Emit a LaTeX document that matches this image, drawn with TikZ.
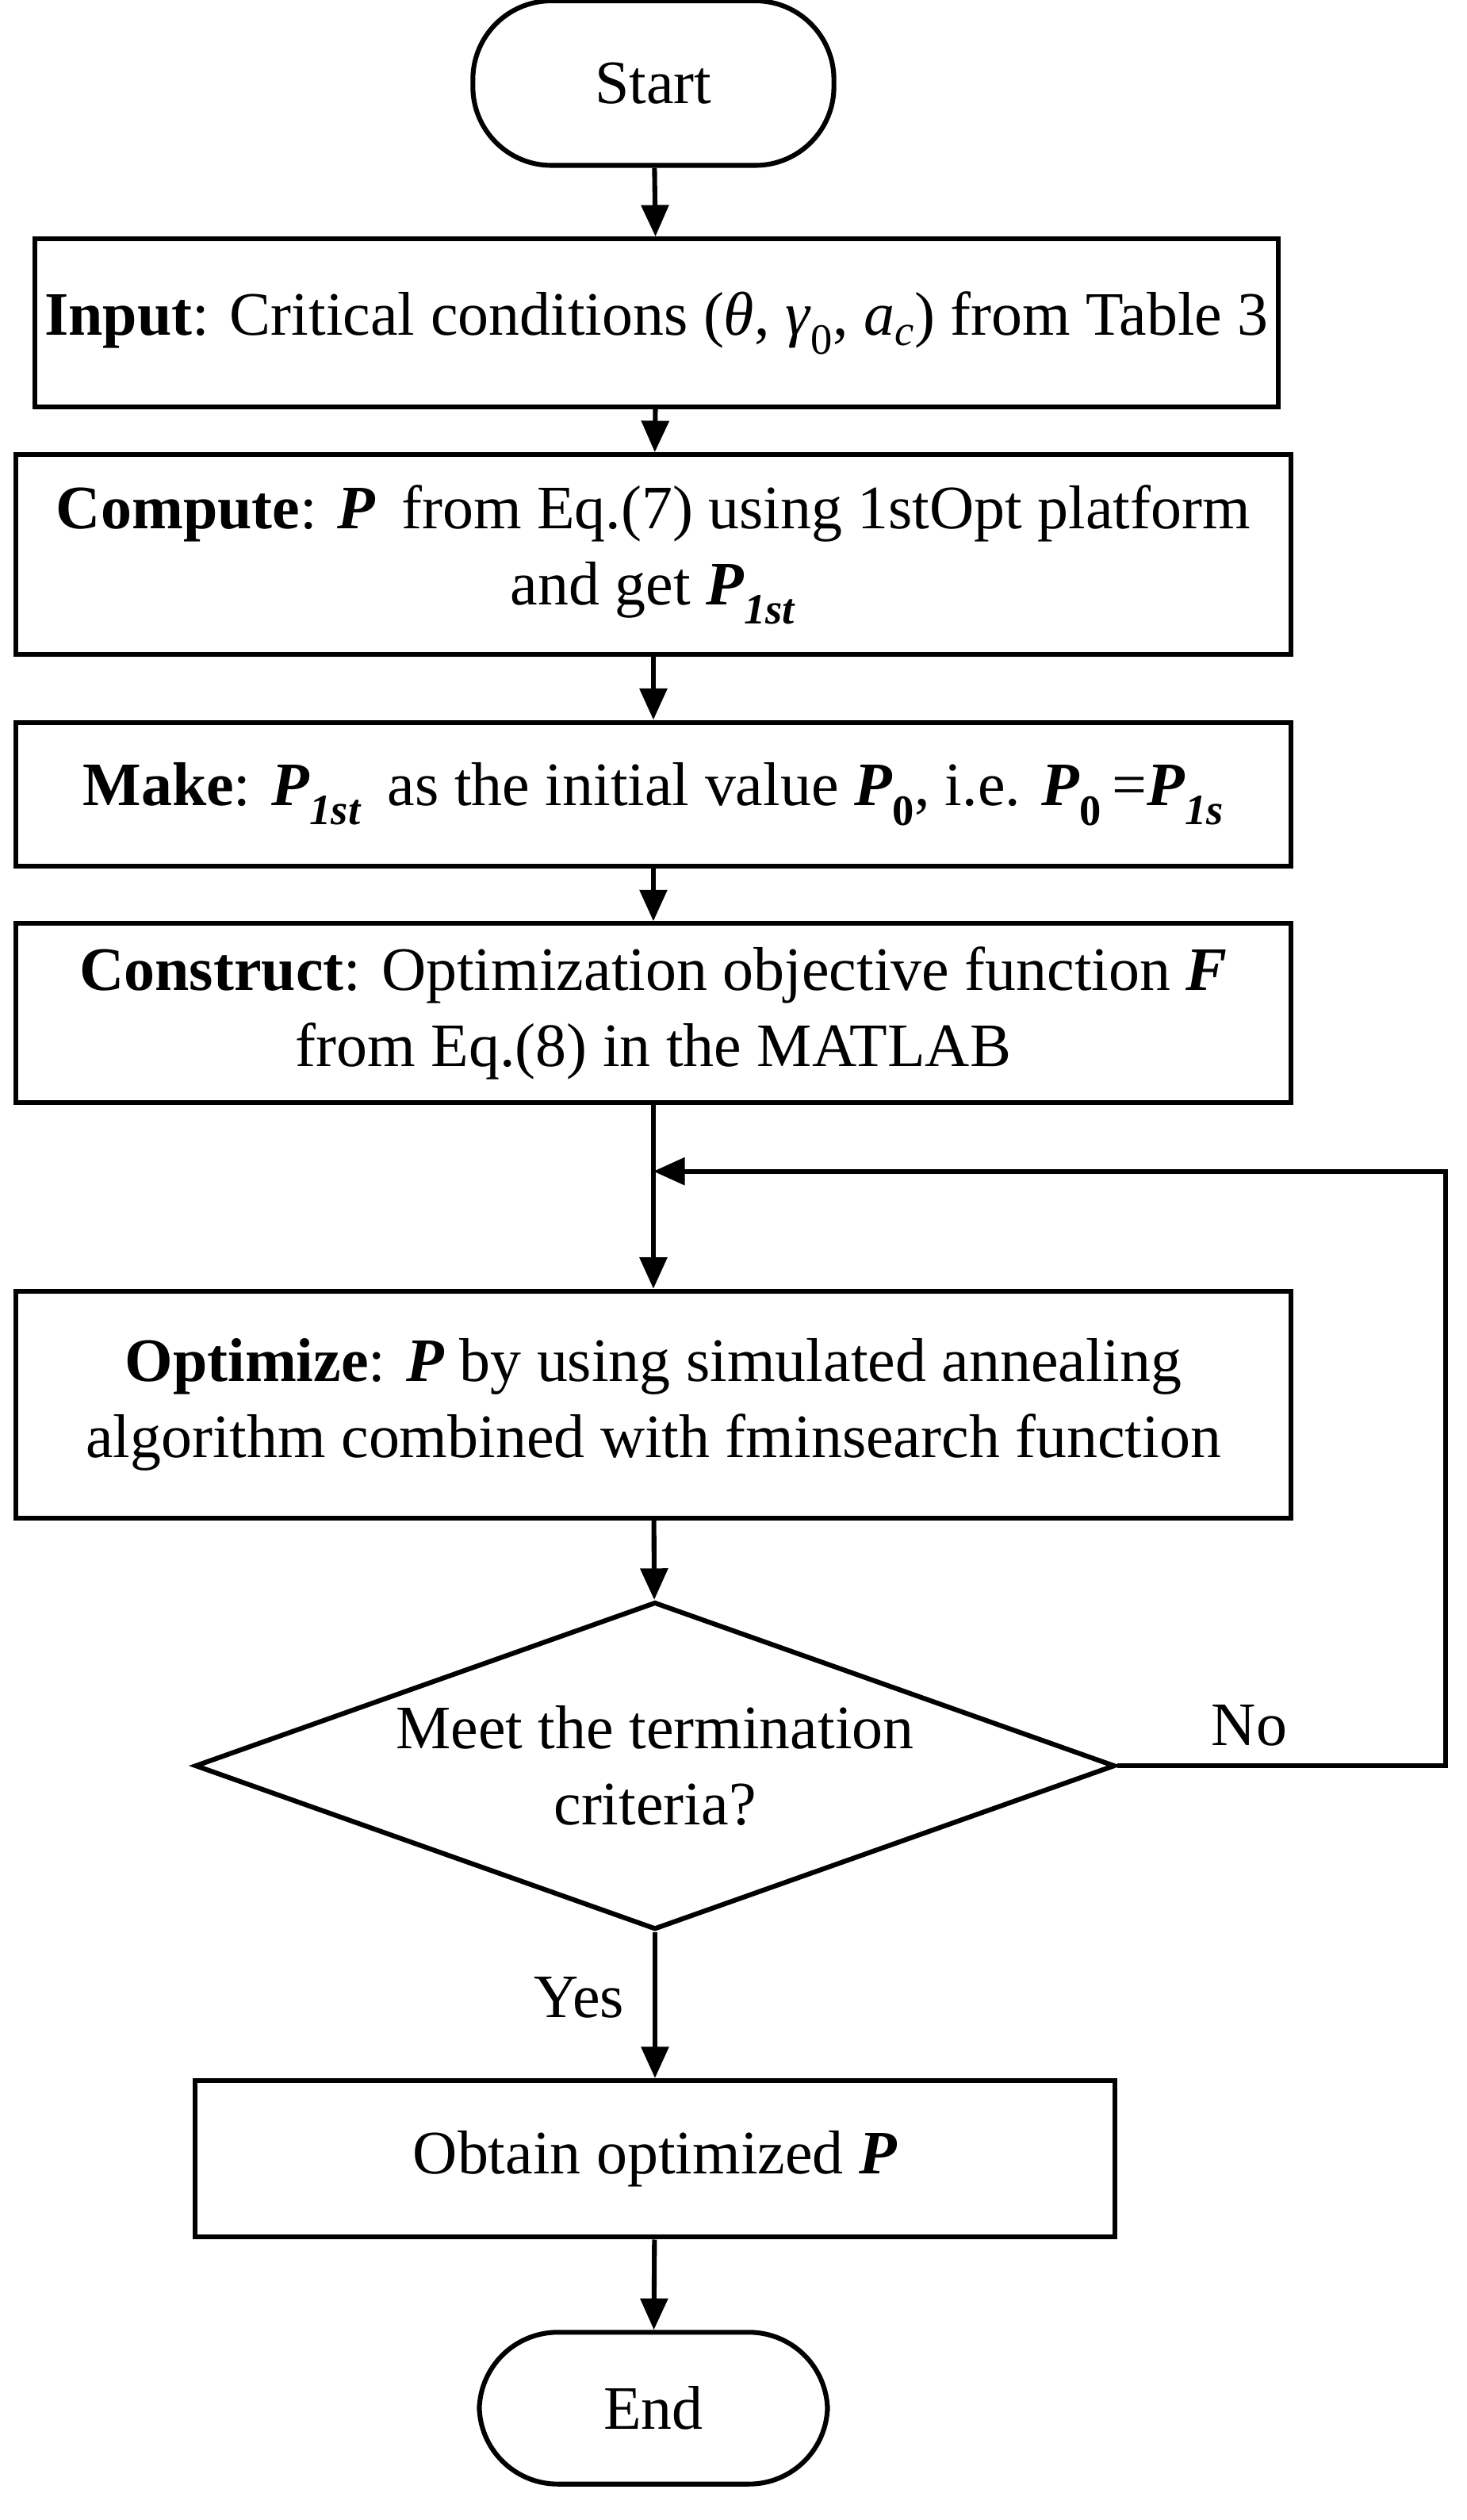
\documentclass[tikz,border=0pt]{standalone}
\usepackage{fontspec}
\setmainfont{Liberation Serif}
\usetikzlibrary{shapes.geometric,arrows.meta}
\newcommand{\bP}[1]{\textbf{\textit{#1}}}
\begin{document}
\begin{tikzpicture}[x=0.05cm,y=-0.05cm,
  every node/.style={font=\fontsize{55}{68}\selectfont},
  box/.style={draw,line width=4.3pt,rectangle,align=center,inner sep=0pt},
  term/.style={draw,line width=4.3pt,rounded corners=70pt,align=center,inner sep=0pt},
  arr/.style={line width=4.3pt,-{Triangle[length=28pt,width=24pt]}}]
\useasboundingbox (0,0) rectangle (918,1577);
\node[term,minimum width=226*0.05cm,minimum height=103*0.05cm] (start) at (409,52) {Start};
\node[box,minimum width=778*0.05cm,minimum height=105*0.05cm] (in) at (411,202) {\textbf{Input}: Critical conditions (\textit{θ}, \textit{γ}\textsubscript{0}, \textit{a}\textsubscript{\textit{c}}) from Table 3};
\node[box,minimum width=798*0.05cm,minimum height=125*0.05cm] (comp) at (409,347) {\textbf{Compute}: \bP{P}\, from Eq.(7) using 1stOpt platform\\and get \bP{P}\textsubscript{\bP{1st}}};
\node[box,minimum width=798*0.05cm,minimum height=90*0.05cm] (make) at (409,497) {\textbf{Make}: \bP{P}\textsubscript{\bP{1st}}\, as the initial value \bP{P}\textsubscript{\textbf{0}}, i.e. \bP{P}\textsubscript{\textbf{0}}\,=\bP{P}\textsubscript{\bP{1s}}};
\node[box,minimum width=798*0.05cm,minimum height=112*0.05cm] (cons) at (409,634) {\textbf{Construct}: Optimization objective function \bP{F}\\from Eq.(8) in the MATLAB};
\coordinate (j) at (409,733);
\node[box,minimum width=798*0.05cm,minimum height=142*0.05cm] (opt) at (409,879) {\textbf{Optimize}: \bP{P} by using simulated annealing\\algorithm combined with fminsearch function};
\node[draw,line width=4.3pt,diamond,aspect=2.8,minimum width=576*0.05cm,minimum height=205*0.05cm,inner sep=0pt,align=center] (dec) at (410,1105) {};
\node[align=center] (dect) at (410,1105) {Meet the termination\\criteria?};
\node[box,minimum width=576*0.05cm,minimum height=98*0.05cm] (obt) at (410,1351) {Obtain optimized \bP{P}};
\node[term,minimum width=218*0.05cm,minimum height=95*0.05cm] (end) at (409,1507) {End};
\coordinate (c1) at (905,1105);
\coordinate (c2) at (905,733);
\draw[arr] (start) -- (in);
\draw[arr] (in) -- (comp);
\draw[arr] (comp) -- (make);
\draw[arr] (make) -- (cons);
\draw[arr] (cons) -- (opt);
\draw[arr] (opt) -- (dec);
\draw[arr] (dec) -- node[pos=0.45,left=22pt] {Yes} (obt);
\draw[arr] (obt) -- (end);
\draw[arr] (dec.east) -- (c1) -- (c2) -- (j);
\node (no) at (782,1080) {No};
\end{tikzpicture}
\end{document}
